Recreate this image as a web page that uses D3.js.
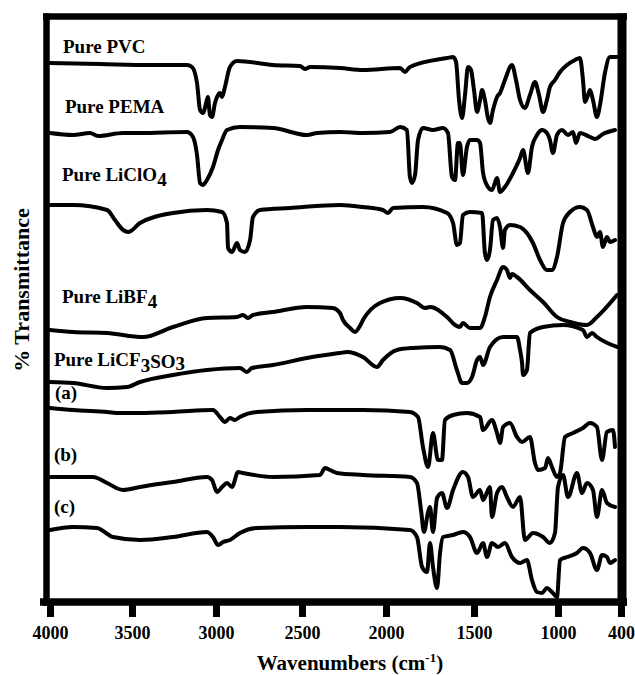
<!DOCTYPE html>
<html lang="en">
<head>
<meta charset="utf-8">
<title>FTIR spectra</title>
<script src="https://cdn.jsdelivr.net/npm/d3@7"></script>
<style>
  body { margin: 0; background: #fff; }
  text { font-family: "Liberation Serif", "Times New Roman", serif; font-weight: bold; fill: #000; }
</style>
</head>
<body>
<script>
// tick labels of the wavenumber axis
var xTicks = [4000, 3500, 3000, 2500, 2000, 1500, 1000, 400];

// spectra, [wavenumber, stacked %T]
var pvc = [[4000,108],[3695,107.8],[3393,107.6],[3173,107.6],[3143,107.2],[3113,104],[3095,98.6],[3078,98],[3054,100.6],[3048,101.2],[3036,97.6],[3024,97.2],[3006,100],[2994,101.2],[2977,102],[2965,101.2],[2948,103.2],[2919,107.2],[2878,108.4],[2669,107.6],[2512,107.4],[2482,106.8],[2452,107.2],[2274,107],[2137,106.6],[1920,107],[1892,106.2],[1864,107.2],[1653,109],[1619,109.2],[1602,108.2],[1585,100.6],[1568,97],[1551,101.6],[1534,107.2],[1517,106.6],[1500,102.6],[1482,98.2],[1464,100.6],[1452,102.6],[1435,100.6],[1417,97],[1405,96],[1387,98.6],[1363,101.2],[1345,102],[1316,104.6],[1274,107.6],[1250,104.6],[1226,100.6],[1197,99],[1167,101.6],[1137,104.2],[1113,101.6],[1089,98.2],[1066,100.6],[1048,103.2],[1018,104.6],[981,106.2],[914,107.6],[838,108.6],[791,109],[762,104.6],[743,100.2],[714,101.6],[695,102.6],[667,100.6],[629,97.2],[600,99.6],[553,106],[505,109.2],[438,109.2]];

var pema = [[4000,94],[3860,93.6],[3756,94],[3707,93.4],[3555,94],[3452,94],[3173,94.2],[3137,93.2],[3113,89.6],[3095,84],[3078,83.6],[3054,84.6],[3018,87.2],[2988,90.6],[2965,92.6],[2936,94.6],[2861,95.2],[2669,95],[2470,93.6],[2411,94],[2274,94.2],[2137,94],[1977,94.2],[1920,95.2],[1881,94.6],[1864,85.2],[1852,84],[1835,85.6],[1818,92.6],[1790,95],[1733,94.6],[1676,95],[1648,94],[1625,85.2],[1608,84.6],[1591,92],[1580,92],[1563,85.6],[1540,91.2],[1523,92.6],[1482,92.6],[1464,92],[1446,86],[1417,83.2],[1393,82.6],[1363,85],[1345,82.2],[1316,83.2],[1268,86],[1226,89],[1208,90.6],[1179,86],[1155,91.2],[1125,93.6],[1095,94.6],[1066,94],[1048,92.6],[1030,90],[1006,93.6],[962,94.6],[905,93.6],[857,94.2],[829,92],[791,94],[695,93.2],[648,92.8],[572,93.8],[457,94.6]];

var liclo4 = [[4000,79.6],[3860,79.6],[3652,78.6],[3604,76.6],[3554,74.6],[3524,74.2],[3452,76],[3256,78],[3054,78.6],[2965,78.2],[2936,76],[2930,71],[2907,70.2],[2878,72],[2861,70.6],[2832,70.2],[2802,72.6],[2785,77.2],[2744,78.6],[2570,79],[2274,79.6],[2137,79.2],[2018,78.6],[1989,78],[1960,79],[1790,79.2],[1653,78],[1619,76],[1597,71.6],[1580,72],[1563,77.6],[1523,78.2],[1452,78],[1435,70],[1423,68.6],[1405,70.6],[1387,76.6],[1363,77],[1345,75.2],[1327,71],[1316,74.6],[1286,75.6],[1226,75.2],[1185,74],[1149,72],[1107,68.6],[1066,66.6],[1036,66.6],[1006,69.2],[952,76],[886,78.2],[791,79.2],[724,78.6],[667,75.2],[629,73.2],[600,74.2],[572,71.2],[534,73.2],[505,72.2],[457,72.6]];

var libf4 = [[4000,54.6],[3860,54.2],[3652,54],[3435,53.2],[3256,55.2],[3054,57],[2878,57.2],[2843,57.6],[2814,57],[2785,57.6],[2669,58.2],[2470,59.2],[2316,59],[2274,58],[2256,56.6],[2214,55],[2185,54.2],[2155,55.4],[2137,56.6],[2036,60],[1920,61],[1824,60],[1778,59],[1750,59.2],[1653,57.2],[1608,55.6],[1580,55.2],[1563,56],[1523,55],[1464,55],[1435,57.2],[1405,61.2],[1363,64.6],[1327,67.2],[1304,66.6],[1286,65],[1274,65.8],[1244,65.2],[1167,62.6],[1089,60.2],[1006,57.2],[886,56.2],[724,55.6],[629,57.2],[438,61.6]];

var licf3so3 = [[4000,44.2],[3860,44],[3652,43],[3530,43.2],[3452,44.2],[3256,45.6],[3054,46.6],[2861,47],[2820,46.2],[2791,47],[2669,47.6],[2470,49],[2274,50],[2232,50.2],[2137,49.2],[2054,47.2],[2018,48.6],[1938,50.6],[1847,51],[1693,51.2],[1636,50.6],[1597,46.6],[1568,44],[1540,44],[1511,45.2],[1482,48.6],[1464,49.2],[1446,47.6],[1405,51.2],[1327,53.2],[1244,53.2],[1226,50.6],[1214,48],[1208,45.6],[1185,46.6],[1167,54],[1089,55.2],[952,55.6],[762,54.6],[724,53.2],[676,54],[629,53.2],[438,51.2]];

var blendA = [[4000,39],[3860,38.6],[3652,38.2],[3573,38],[3452,38],[3256,38.2],[3018,38.6],[2977,37.2],[2948,36.2],[2919,37],[2890,36.6],[2861,37.2],[2762,38.2],[2470,38.6],[2274,38.6],[2137,38.6],[1864,38.2],[1818,37.2],[1790,31.2],[1761,27.2],[1733,34],[1705,28.6],[1682,28.6],[1665,36.6],[1619,37.6],[1540,38],[1464,37.2],[1446,34.6],[1393,36.6],[1363,34],[1345,32],[1327,35.2],[1286,36],[1244,33.2],[1214,32.2],[1167,33.2],[1137,28],[1119,26.6],[1077,27],[1060,29],[1036,27.2],[1006,25.2],[981,26],[933,33.2],[857,34],[762,35],[695,36],[629,35.2],[581,28.6],[534,34.2],[476,34.6],[457,31.2]];

var blendB = [[4000,25.2],[3738,25.2],[3652,24],[3555,22.6],[3452,23.2],[3256,24.2],[3054,25.2],[3024,24.6],[2994,22.2],[2965,23.2],[2936,24],[2907,23.2],[2872,26.2],[2843,26],[2669,25.2],[2393,25.6],[2363,27],[2333,26.6],[2292,26],[2137,25.6],[1864,25.2],[1824,24],[1801,18.6],[1784,14.2],[1761,18.2],[1750,19.2],[1733,14.2],[1710,21],[1682,22],[1653,19],[1619,22.6],[1563,26.2],[1534,25.2],[1506,21.2],[1464,22.6],[1446,20.6],[1405,23.2],[1393,17.2],[1363,22],[1333,23.2],[1304,21.2],[1268,19.2],[1226,21.2],[1197,12.6],[1149,14],[1089,13.2],[1048,12],[1018,14],[1000,23.2],[952,25.6],[905,21.2],[819,26],[772,22],[724,24],[667,22.6],[629,17.2],[581,22.6],[534,20],[457,19.2]];

var blendC = [[4000,14.6],[3860,15.2],[3713,15],[3616,13.2],[3452,12.6],[3256,13.2],[3054,14.2],[3018,13.2],[2988,11.6],[2959,12.2],[2919,12.6],[2861,14],[2762,15],[2470,15.2],[2274,15.2],[1864,14.6],[1824,13.2],[1795,7.2],[1767,6.2],[1750,12],[1733,7.2],[1710,3],[1693,10],[1676,13.2],[1619,13.6],[1563,14.2],[1523,13.2],[1482,10],[1446,12],[1423,9.2],[1393,12],[1357,11.2],[1316,12],[1274,9.2],[1226,8],[1185,8.6],[1155,4.6],[1125,2.2],[1095,2],[1066,3],[1036,2.2],[1006,1.2],[981,8.6],[914,9.2],[819,10],[762,11],[695,10],[629,6.6],[581,9.6],[534,9.2],[505,8],[457,8.6]];

var spectra = [pvc, pema, liclo4, libf4, licf3so3, blendA, blendB, blendC];

// trace labels and where they sit (wavenumber, %T)
var labelText = ["Pure PVC", "Pure PEMA", "Pure LiClO4", "Pure LiBF4", "Pure LiCF3SO3", "(a)", "(b)", "(c)"];
var labelWn = [3921, 3909, 3927, 3927, 3976, 3970, 3976, 3976];
var labelT  = [110, 98, 84.4, 60, 47.4, 40.8, 28.4, 18];

var w = 635, h = 675;

var svg = d3.select("body").append("svg")
  .attr("width", w).attr("height", h);

svg.append("rect").attr("width", w).attr("height", h).attr("fill", "#fff");

// the printed axis is not evenly spaced, so the scale follows its ticks
var x = d3.scaleLinear()
  .domain(xTicks)
  .range([50, 132, 216, 302, 386, 474, 558, 621]);

var y = d3.scaleLinear()
  .domain([0, 120])
  .range([603, 3]);

var line = d3.line()
  .x(function(d){ return x(d[0]); })
  .y(function(d){ return y(d[1]); })
  .curve(d3.curveMonotoneX);

svg.selectAll("path.trace")
  .data(spectra)
  .enter()
  .append("path")
  .attr("class", "trace")
  .attr("d", line)
  .attr("fill", "none")
  .attr("stroke", "#000")
  .attr("stroke-width", 4)
  .attr("stroke-linejoin", "round")
  .attr("stroke-linecap", "round");

// frame
svg.append("line").attr("x1", 46.5).attr("x2", 46.5).attr("y1", 13.5).attr("y2", 606)
  .attr("stroke", "#000").attr("stroke-width", 6.5);
svg.append("line").attr("x1", 43).attr("x2", 627).attr("y1", 16.5).attr("y2", 16.5)
  .attr("stroke", "#000").attr("stroke-width", 6.5);
svg.append("line").attr("x1", 622).attr("x2", 622).attr("y1", 13.5).attr("y2", 606)
  .attr("stroke", "#000").attr("stroke-width", 9);
svg.append("line").attr("x1", 40).attr("x2", 627).attr("y1", 602).attr("y2", 602)
  .attr("stroke", "#000").attr("stroke-width", 7.5);

// x axis
var xAxis = d3.axisBottom(x)
  .tickValues(xTicks)
  .tickFormat(d3.format("d"))
  .tickSize(15)
  .tickPadding(9);

var gx = svg.append("g")
  .attr("transform", "translate(0,602)")
  .call(xAxis)
  .attr("font-family", '"Liberation Serif", "Times New Roman", serif')
  .attr("font-size", 18)
  .attr("font-weight", "bold");
gx.select(".domain").remove();
gx.selectAll(".tick line").attr("stroke", "#000").attr("stroke-width", 7);
gx.selectAll(".tick text")
  .style("font-family", '"Liberation Serif", "Times New Roman", serif')
  .style("font-weight", "bold")
  .style("font-size", "18px");

// axis titles
var xt = svg.append("text")
  .attr("x", 350).attr("y", 670)
  .attr("text-anchor", "middle")
  .style("font-size", "21px");
xt.append("tspan").text("Wavenumbers (cm");
xt.append("tspan").attr("dy", -8).style("font-size", "13px").text("-1");
xt.append("tspan").attr("dy", 8).text(")");

svg.append("text")
  .attr("transform", "translate(29,290) rotate(-90)")
  .attr("text-anchor", "middle")
  .style("font-size", "22px")
  .text("% Transmittance");

// trace labels
labelText.forEach(function(t, i) {
  var g = svg.append("text")
    .attr("x", x(labelWn[i]))
    .attr("y", y(labelT[i]))
    .style("font-size", "19px");
  if (t === "Pure LiClO4") {
    g.append("tspan").text("Pure LiClO");
    g.append("tspan").attr("dy", 5).text("4");
  } else if (t === "Pure LiBF4") {
    g.append("tspan").text("Pure LiBF");
    g.append("tspan").attr("dy", 5).text("4");
  } else if (t === "Pure LiCF3SO3") {
    g.append("tspan").text("Pure LiCF");
    g.append("tspan").attr("dy", 6).text("3");
    g.append("tspan").attr("dy", -4).text("SO");
    g.append("tspan").attr("dy", 2).text("3");
  } else {
    g.text(t);
  }
});
</script>
</body>
</html>
